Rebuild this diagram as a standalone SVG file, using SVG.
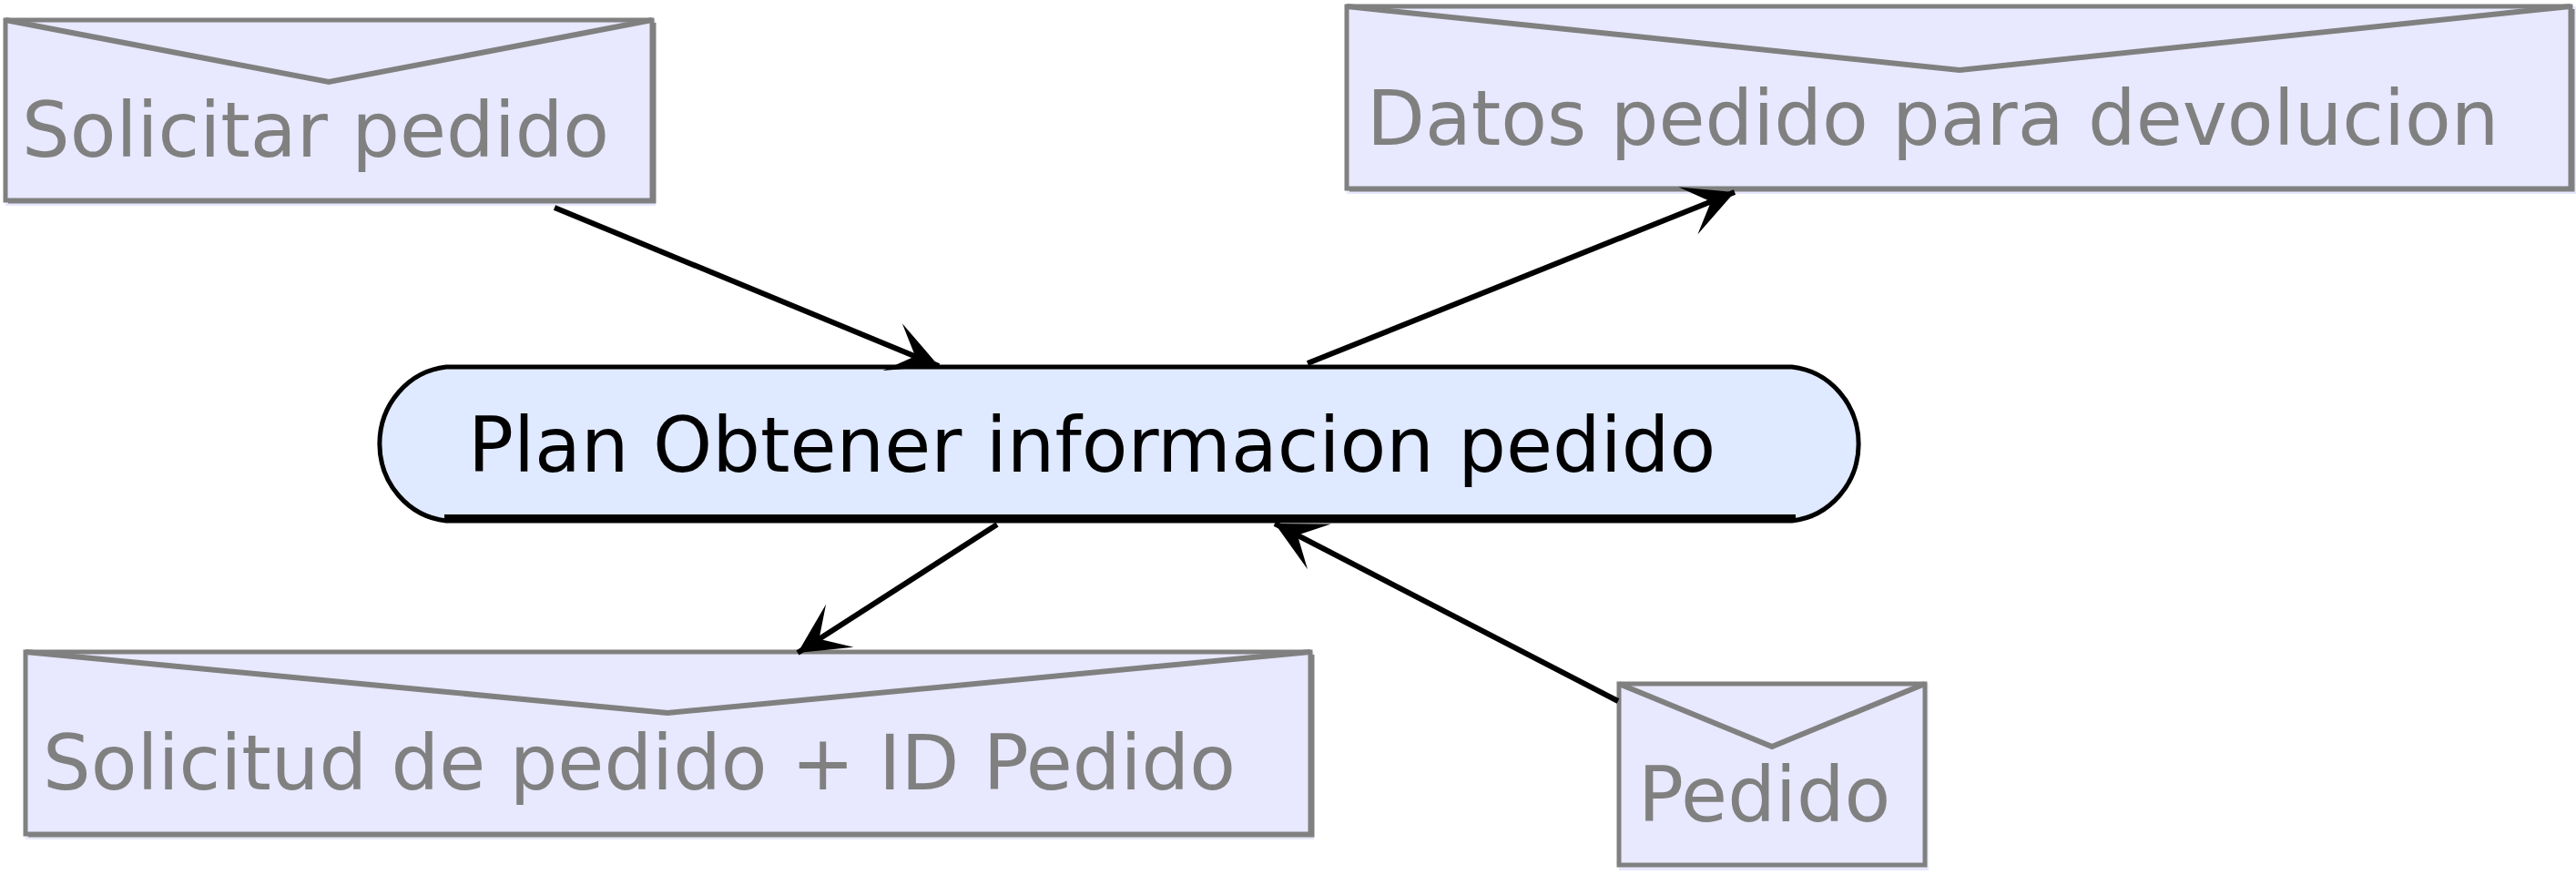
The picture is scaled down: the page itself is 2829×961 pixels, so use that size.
<svg xmlns="http://www.w3.org/2000/svg" width="2829" height="961" viewBox="0 0 2829 961">
<style>
.env rect.bg{fill:#E8E8FF;stroke:none}
.env rect.b{fill:none;stroke:#808080;stroke-width:5}
.env .sh{fill:none;stroke:#808080;stroke-width:5}
.env .flap{fill:none;stroke:#808080;stroke-width:6;stroke-linejoin:miter}
.env text{font-family:"DejaVu Sans",sans-serif;font-size:83px;fill:#808080}
.plan text{font-family:"DejaVu Sans",sans-serif;font-size:83px;fill:#000}
.conn line{stroke:#000;stroke-width:6}
</style>
<defs>
<marker id="arr" markerUnits="userSpaceOnUse" orient="auto" markerWidth="60" markerHeight="60" refX="55" refY="28" viewBox="0 0 60 56" overflow="visible">
<path d="M55,28 L0,0 L27,28 L0,56 Z" fill="#000"/>
</marker>
</defs>
<rect width="2829" height="961" fill="#fff"/>

<g id="solicitar-pedido" class="env">
<rect class="bg" x="6" y="22" width="714" height="204"/>
<rect class="b" x="6" y="22" width="710" height="198"/>
<polyline class="sh" points="9,221 718,221 718,25"/>
<polyline class="flap" points="6,22 361,90 716,22"/>
<text x="24" y="172">Solicitar pedido</text>
</g>

<g id="datos-pedido" class="env">
<rect class="bg" x="1479" y="7" width="1350" height="206"/>
<rect class="b" x="1479" y="7" width="1344" height="200"/>
<polyline class="sh" points="1482,208 2825,208 2825,10"/>
<polyline class="flap" points="1479,7 2152,77 2823,7"/>
<text x="1501" y="159">Datos pedido para devolucion</text>
</g>

<g id="plan" class="plan">
<path d="M490,403 H1968 A82,85 0 0 1 1968,572 H490 A82,85 0 0 1 490,403 Z" fill="#DFE9FF" stroke="#000" stroke-width="5"/>
<line x1="488" y1="569" x2="1972" y2="569" stroke="#000" stroke-width="8"/>
<text x="514" y="518">Plan Obtener informacion pedido</text>
</g>

<g id="solicitud-pedido" class="env">
<rect class="bg" x="28" y="716" width="1415" height="206"/>
<rect class="b" x="28" y="716" width="1411" height="200"/>
<polyline class="sh" points="31,917 1441,917 1441,719"/>
<polyline class="flap" points="28,716 733,783 1439,716"/>
<text x="47" y="867">Solicitud de pedido + ID Pedido</text>
</g>

<g id="pedido" class="env">
<rect class="bg" x="1778" y="751" width="340" height="205"/>
<rect class="b" x="1778" y="751" width="336" height="199"/>
<polyline class="flap" points="1778,751 1946,820 2114,751"/>
<text x="1799" y="902">Pedido</text>
</g>

<g id="connectors" class="conn">
<line x1="609" y1="228" x2="1031" y2="402" marker-end="url(#arr)"/>
<line x1="1436" y1="399" x2="1905" y2="211" marker-end="url(#arr)"/>
<line x1="1095" y1="576" x2="876" y2="717" marker-end="url(#arr)"/>
<line x1="1777" y1="770" x2="1400" y2="575" marker-end="url(#arr)"/>
</g>
</svg>
